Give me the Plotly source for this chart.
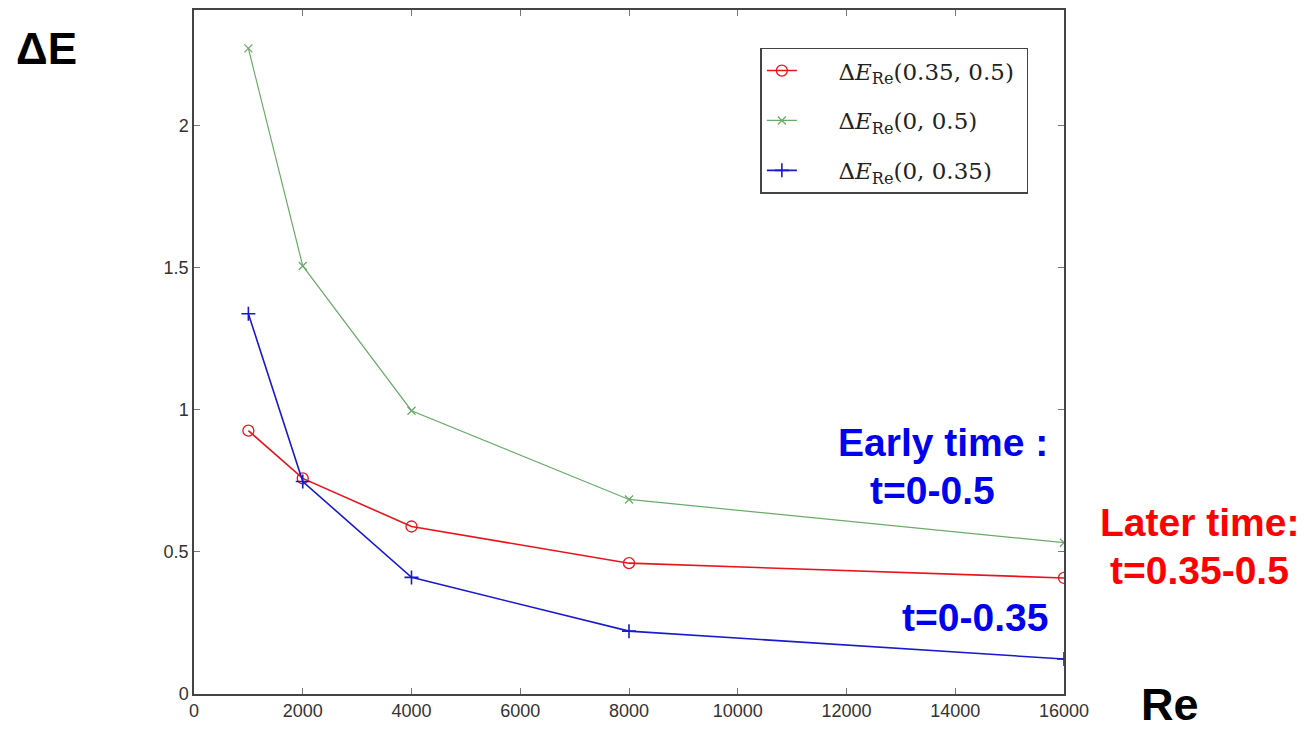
import plotly.graph_objects as go

re_vals = [1000, 2000, 4000, 8000, 16000]
dE_035_05 = [0.926, 0.758, 0.589, 0.460, 0.408]
dE_0_05 = [2.27, 1.505, 0.996, 0.684, 0.532]
dE_0_035 = [1.337, 0.747, 0.410, 0.221, 0.123]

x_ticks = [0, 2000, 4000, 6000, 8000, 10000, 12000, 14000, 16000]
y_ticks = [0, 0.5, 1, 1.5, 2]
y_tick_text = ["0", "0.5", "1", "1.5", "2"]

pad = "&nbsp;" * 5

fig = go.Figure()
fig.add_trace(go.Scatter(
    x=re_vals, y=dE_035_05, mode="lines+markers",
    name=pad + "Δ<i>E</i><sub>Re</sub>(0.35, 0.5)&nbsp;", legendgroup="a",
    line=dict(color="#e8141c", width=1.6),
    marker=dict(symbol="circle-open", size=11, color="#e8141c", line=dict(width=1.3)),
))
fig.add_trace(go.Scatter(
    x=re_vals, y=dE_0_05, mode="lines+markers",
    name=pad + "Δ<i>E</i><sub>Re</sub>(0, 0.5)", legendgroup="b",
    line=dict(color="#6aaa6a", width=1.2),
    marker=dict(symbol="x-thin", size=8, color="#6aaa6a", line=dict(width=1.3, color="#6aaa6a")),
))
fig.add_trace(go.Scatter(
    x=re_vals, y=dE_0_035, mode="lines+markers",
    name=pad + "Δ<i>E</i><sub>Re</sub>(0, 0.35)", legendgroup="c",
    line=dict(color="#1a1acc", width=1.6),
    marker=dict(symbol="cross-thin", size=10, color="#1a1acc", line=dict(width=1.6, color="#1a1acc")),
))

axis_common = dict(
    showline=True, linecolor="#444", linewidth=1.5, mirror="ticks",
    ticks="inside", ticklen=6, tickcolor="#777", tickwidth=1,
    showgrid=False, zeroline=False,
    tickfont=dict(family="Liberation Sans, Arial, sans-serif", size=18, color="#333"),
)

fig.update_layout(
    width=1304, height=721,
    margin=dict(l=186, r=248, t=0, b=35),
    paper_bgcolor="white", plot_bgcolor="white",
    xaxis=dict(range=[0, 16000], tickvals=x_ticks, ticktext=[str(v) for v in x_ticks], **axis_common),
    yaxis=dict(range=[0, 2.405], tickvals=y_ticks, ticktext=y_tick_text, **axis_common),
    legend=dict(
        x=0.651, y=0.945, xanchor="left", yanchor="top",
        bgcolor="white", bordercolor="#444", borderwidth=1.5,
        font=dict(family="DejaVu Serif, serif", size=23, color="#222"),
        tracegroupgap=17,
    ),
    showlegend=True,
)

bold = "Liberation Sans, Arial, sans-serif"
annos = [
    dict(text="<b>ΔE</b>", x=-0.169, y=0.943, color="black", size=44),
    dict(text="<b>Re</b>", x=1.122, y=-0.016, color="black", size=45),
    dict(text="<b>Early time :</b>", x=0.861, y=0.367, color="#0000ee", size=39),
    dict(text="<b>t=0-0.5</b>", x=0.849, y=0.297, color="#0000ee", size=39),
    dict(text="<b>Later time:</b>", x=1.156, y=0.251, color="#ff0000", size=39),
    dict(text="<b>t=0.35-0.5</b>", x=1.156, y=0.181, color="#ff0000", size=39),
    dict(text="<b>t=0-0.35</b>", x=0.898, y=0.112, color="#0000ee", size=39),
]
for a in annos:
    fig.add_annotation(
        text=a["text"], x=a["x"], y=a["y"], xref="paper", yref="paper",
        xanchor="center", yanchor="middle", showarrow=False,
        font=dict(family=bold, size=a["size"], color=a["color"]),
    )

fig.write_html("out.html")
